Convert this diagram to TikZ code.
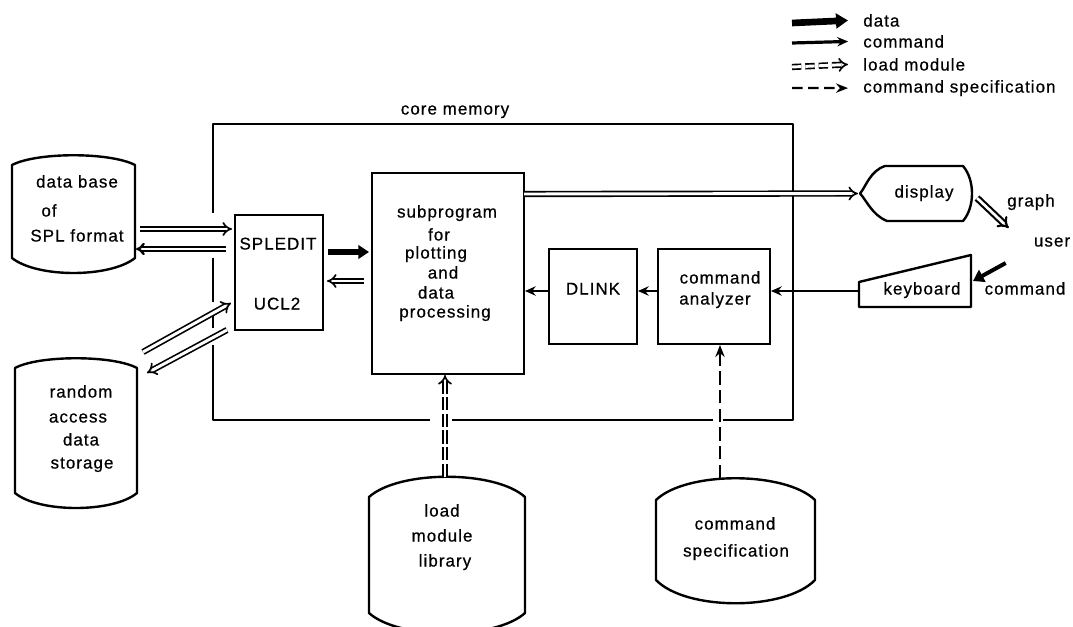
\documentclass[tikz,border=0pt]{standalone}
\usepackage{fontspec}
\setmainfont{Liberation Sans}[LetterSpace=6, FakeBold=0.6]
\usetikzlibrary{arrows.meta,calc}
\tikzset{
  frame/.style n args={2}{inner sep=0pt, outer sep=0pt, minimum width=#1*0.75pt, minimum height=#2*0.75pt},
  boxed/.style n args={2}{inner sep=0pt, outer sep=0pt, minimum width=#1*0.75pt, minimum height=#2*0.75pt, draw, line width=1.8pt},
  outl/.style={line width=1.8pt, line join=round},
  txt/.style={inner sep=0pt, anchor=mid, font=\fontsize{12.75}{15}\selectfont},
  lgd/.style={inner sep=0pt, anchor=mid west, font=\fontsize{12.75}{15}\selectfont},
  data/.style={line width=4pt, -{Triangle[length=8pt,width=10pt]}},
  cmdarrow/.style={line width=2pt, -{Stealth[length=8pt,width=7pt]}},
  dbl/.style={double, line width=1.25pt, double distance=2.2pt, -{Implies}},
  heavydbl/.style={double, line width=1.7pt, double distance=1.2pt, -{Implies}},
  loadmod/.style={dbl, dash pattern=on 10pt off 2.5pt},
  spec/.style={line width=1.7pt, dash pattern=on 10pt off 4pt, -{Stealth[length=9pt,width=7pt]}}
}
\begin{document}
\begin{tikzpicture}[x=0.75pt,y=-0.75pt]
\useasboundingbox (0,0) rectangle (1073,627);

% ---------- blocks inside core memory ----------
\node[frame={580}{296}] (core) at (503,272) {};
\node[txt] (corelabel) at (455,111) {core memory};
\node[boxed={88}{115}]  (spledit) at (279,272.5) {};
\node[boxed={152}{201}] (sub)     at (448,273.5) {};
\node[boxed={88}{95}]   (dlink)   at (593,296.5) {};
\node[boxed={112}{95}]  (cmdan)   at (714,296.5) {};

% ---------- outer devices (outlines drawn below) ----------
\node[frame={123}{93}]  (db)      at (73.5,211.5) {};
\node[frame={122}{125}] (ras)     at (76,430.5) {};
\node[frame={112}{55}]  (display) at (916,193.5) {};
\node[frame={112}{52}]  (keyb)    at (915,281) {};
\node[frame={156}{116}] (lml)     at (447,555) {};
\node[frame={159}{80}]  (cspec)   at (735.5,540) {};

% core memory border, broken where connectors pass through
\draw[outl] ($(core.north west)+(0,89)$) -- (core.north west) -- (core.north east)
  -- (core.south east) -- ($(core.south east)+(-70,0)$);
\draw[outl] ($(core.south east)+(-80,0)$) -- ($(core.south west)+(239,0)$);
\draw[outl] ($(core.south west)+(217,0)$) -- (core.south west) -- ($(core.south west)+(0,-75)$);
\draw[outl] ($(core.north west)+(0,134)$) -- ($(core.north west)+(0,178)$);
\draw[outl] ($(core.north west)+(0,188)$) -- ($(core.north west)+(0,204)$);

% drum outlines for the stores
\foreach \n/\dx/\up/\dn in {db/25/13/20, ras/24/13/20, lml/30/27/27, cspec/30/29/31}{
  \draw[outl] (\n.north west)
    .. controls ($(\n.north west)+(\dx,-\up)$) and ($(\n.north east)+(-\dx,-\up)$) .. (\n.north east)
    -- (\n.south east)
    .. controls ($(\n.south east)+(-\dx,\dn)$) and ($(\n.south west)+(\dx,\dn)$) .. (\n.south west)
    -- cycle;
}
% display outline
\draw[outl] ($(display.north west)+(25,0)$) -- ($(display.north east)+(-9,0)$)
  .. controls ($(display.north east)+(3,14)$) and ($(display.south east)+(3,-14)$) .. ($(display.south east)+(-9,0)$)
  -- ($(display.south west)+(27,0)$)
  .. controls ($(display.south west)+(12,-6)$) and ($(display.west)+(6,6)$) .. (display.west)
  .. controls ($(display.west)+(6,-7)$) and ($(display.north west)+(10,5)$) .. ($(display.north west)+(25,0)$)
  -- cycle;
% keyboard outline
\draw[outl] (keyb.south west) -- ($(keyb.north west)+(0,27)$) -- (keyb.north east) -- (keyb.south east) -- cycle;

% ---------- texts ----------
\foreach \n/\t/\x/\y in {
  dbA/data base/77/184, dbB/of/49/213, dbC/SPL format/77/238,
  rasA/random/81/394, rasB/access/78/419, rasC/data/81/442, rasD/storage/82/465,
  spA/SPLEDIT/278/246, spB/UCL2/277/306,
  subA/subprogram/447/214, subB/for/439/237, subC/plotting/436/255,
  subD/and/443/275, subE/data/436/295, subF/processing/445/314,
  dlA/DLINK/593/291,
  caA/command/720/280, caB/analyzer/715/301,
  dispA/display/924/194, kbA/keyboard/922/291,
  lmA/load/442/513, lmB/module/442/538, lmC/library/445/563,
  csA/command/735/526, csB/specification/736/553,
  graph/graph/1031/203, user/user/1052/243, ucmd/command/1025/291}{
  \node[txt] (\n) at (\x,\y) {\t};
}

% ---------- connectors ----------
\draw[dbl]      ($(db.east)+(5,17.5)$) -- ($(spledit.west)+(-3,-43.5)$);
\draw[heavydbl] ($(spledit.west)+(-9,-23.5)$) -- ($(db.east)+(1,37.5)$);
\draw[data]     ($(spledit.east)+(5,-20.5)$) -- ($(sub.west)+(-3,-21.5)$);
\draw[dbl]      ($(sub.west)+(-8,7.5)$) -- ($(spledit.east)+(4,8.5)$);
\draw[dbl]      ($(ras.north east)+(6,-16)$) -- ($(spledit.west)+(-4,30.5)$);
\draw[dbl]      ($(spledit.south west)+(-8,0)$) -- ($(ras.north east)+(10,5)$);
\draw[dbl]      ($(sub.east)+(0,-79.5)$) -- ($(display.west)+(-2,0)$);
\draw[cmdarrow] ($(cmdan.west)+(0,-5.5)$) -- ($(dlink.east)+(1,-5.5)$);
\draw[cmdarrow] ($(dlink.west)+(0,-5.5)$) -- ($(sub.east)+(1,17.5)$);
\draw[cmdarrow] ($(keyb.west)+(0,10)$) -- ($(cmdan.east)+(1,-5.5)$);
\draw[loadmod]  ($(lml.north)+(-2,-20)$) -- ($(sub.south)+(-3,1)$);
\draw[spec]     ($(cspec.north)+(-15.5,-22)$) -- ($(cmdan.south)+(6,1)$);
\draw[dbl, line width=1.6pt, double distance=2pt] ($(display.east)+(5,4.5)$) -- ($(user.west)+(-25,-14)$);
\draw[data, line width=3pt] ($(user.west)+(-28,21)$) -- ($(keyb.east)+(2,0)$);

% ---------- legend ----------
\node[lgd] (lgData) at (863,23) {data};
\node[lgd] (lgCmd)  at (863,44) {command};
\node[lgd] (lgLoad) at (863,67) {load module};
\node[lgd] (lgSpec) at (863,89) {command specification};
\coordinate (lsData) at (792,23);
\coordinate (lsCmd)  at (792,43);
\coordinate (lsLoad) at (792,67);
\coordinate (lsSpec) at (792,88);
\draw[data, line width=5pt, -{Triangle[length=9pt,width=11pt]}] (lsData) -- ($(lgData.west)+(-15,0)$);
\draw[cmdarrow, line width=2.4pt] (lsCmd)  -- ($(lgCmd.west)+(-15,0)$);
\draw[loadmod, dash pattern=on 7pt off 3pt]  (lsLoad) -- ($(lgLoad.west)+(-15,0)$);
\draw[spec, dash pattern=on 8pt off 4pt]     (lsSpec) -- ($(lgSpec.west)+(-15,0)$);
\end{tikzpicture}
\end{document}
